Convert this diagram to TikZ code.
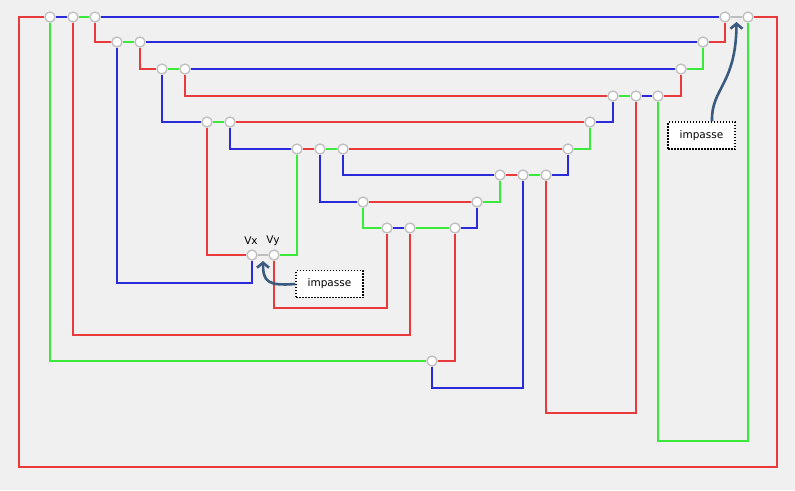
\documentclass[tikz,border=0pt]{standalone}
\usepackage{fontspec}
\setmainfont{DejaVu Sans}
\usetikzlibrary{arrows.meta,calc}
\definecolor{bg}{HTML}{F0F0F0}
\definecolor{ered}{HTML}{E83A3A}
\definecolor{eblue}{HTML}{2A2AD8}
\definecolor{egreen}{HTML}{3AEA3A}
\definecolor{egray}{HTML}{BEBEBE}
\definecolor{arr}{HTML}{3A5A80}
\begin{document}
\begin{tikzpicture}[x=1pt,y=-1pt,
  vtx/.style={circle,draw=egray,fill=white,line width=1.3pt,minimum size=10pt,inner sep=0pt},
  er/.style={draw=ered,line width=1.8pt},
  eb/.style={draw=eblue,line width=1.8pt},
  eg/.style={draw=egreen,line width=1.8pt},
  ex/.style={draw=egray,line width=1.8pt},
  note/.style={draw=black,fill=white,dash pattern=on 1.5pt off 1.5pt,line width=1.5pt,minimum width=67pt,minimum height=27pt,inner sep=0pt,font=\fontsize{10.5}{12}\selectfont},
  lbl/.style={font=\fontsize{10.5}{12}\selectfont,inner sep=0pt},
  pointer/.style={draw=arr,line width=2.6pt,-{Straight Barb[length=5pt,width=12pt]}}]
\fill[bg] (0,0) rectangle (795,490);
\useasboundingbox (0,0) rectangle (795,490);
% vertices
\node[vtx] (A1) at (50,17) {};
\node[vtx] (A2) at (73,17) {};
\node[vtx] (A3) at (95,17) {};
\node[vtx] (A4) at (725,17) {};
\node[vtx] (A5) at (748,17) {};
\node[vtx] (B1) at (117,42) {};
\node[vtx] (B2) at (140,42) {};
\node[vtx] (B3) at (703,42) {};
\node[vtx] (C1) at (162,69) {};
\node[vtx] (C2) at (185,69) {};
\node[vtx] (C3) at (681,69) {};
\node[vtx] (D1) at (613,96) {};
\node[vtx] (D2) at (636,96) {};
\node[vtx] (D3) at (658,96) {};
\node[vtx] (E1) at (207,122) {};
\node[vtx] (E2) at (230,122) {};
\node[vtx] (E3) at (590,122) {};
\node[vtx] (F1) at (297,149) {};
\node[vtx] (F2) at (320,149) {};
\node[vtx] (F3) at (343,149) {};
\node[vtx] (F4) at (568,149) {};
\node[vtx] (G1) at (500,175) {};
\node[vtx] (G2) at (523,175) {};
\node[vtx] (G3) at (546,175) {};
\node[vtx] (H1) at (363,202) {};
\node[vtx] (H2) at (477,202) {};
\node[vtx] (I1) at (387,228) {};
\node[vtx] (I2) at (410,228) {};
\node[vtx] (I3) at (455,228) {};
\node[vtx] (Vx) at (252,255) {};
\node[vtx] (Vy) at (274,255) {};
\node[vtx] (J) at (432,361) {};
\node[lbl] (lx) at (251,241) {Vx};
\node[lbl] (ly) at (273,241) {Vy};
% red edges
\draw[er] (A1) -| (19,467) -| (777,17) -- (A5);
\draw[er] (A2) |- (410,335) -- (I2);
\draw[er] (A3) |- (B1);
\draw[er] (B2) |- (C1);
\draw[er] (C2) |- (D1);
\draw[er] (E1) |- (Vx);
\draw[er] (Vy) -- (274,308) -| (I1);
\draw[er] (J) -| (I3);
\draw[er] (G3) -- (546,413) -| (D2);
\draw[er] (D3) -| (C3);
\draw[er] (B3) -| (A4);
\draw[er] (E2) -- (E3);
\draw[er] (F1) -- (F2);
\draw[er] (F3) -- (F4);
\draw[er] (H1) -- (H2);
\draw[er] (G1) -- (G2);
% blue edges
\draw[eb] (A1) -- (A2);
\draw[eb] (A3) -- (A4);
\draw[eb] (B2) -- (B3);
\draw[eb] (C2) -- (C3);
\draw[eb] (D2) -- (D3);
\draw[eb] (I1) -- (I2);
\draw[eb] (B1) -- (117,283) -| (Vx);
\draw[eb] (C1) |- (E1);
\draw[eb] (E2) |- (F1);
\draw[eb] (F2) |- (H1);
\draw[eb] (F3) |- (G1);
\draw[eb] (I3) -| (H2);
\draw[eb] (J) -- (432,388) -| (G2);
\draw[eb] (G3) -| (F4);
\draw[eb] (E3) -| (D1);
% green edges
\draw[eg] (A2) -- (A3);
\draw[eg] (B1) -- (B2);
\draw[eg] (C1) -- (C2);
\draw[eg] (E1) -- (E2);
\draw[eg] (F2) -- (F3);
\draw[eg] (G2) -- (G3);
\draw[eg] (I2) -- (I3);
\draw[eg] (D1) -- (D2);
\draw[eg] (A1) |- (J);
\draw[eg] (F1) |- (Vy);
\draw[eg] (H1) |- (I1);
\draw[eg] (H2) -| (G1);
\draw[eg] (F4) -| (E3);
\draw[eg] (D3) -- (658,441) -| (A5);
\draw[eg] (C3) -| (B3);
% gray edges
\draw[ex] (A4) -- (A5);
\draw[ex] (Vx) -- (Vy);
% notes
\node[note] (N1) at (701.5,135.5) {impasse};
\node[note] (N2) at (329.5,284) {impasse};
\coordinate (T1) at ($(A4)!0.5!(A5)+(0,5)$);
\coordinate (T2) at ($(Vx)!0.5!(Vy)+(0,6)$);
\coordinate (S1) at ($(N1.north)+(10.5,0)$);
\draw[pointer] (S1) .. controls (711,88) and (736,85) .. (T1);
\draw[pointer] (N2.west) .. controls (268,286) and (263,282) .. (T2);
\end{tikzpicture}
\end{document}
